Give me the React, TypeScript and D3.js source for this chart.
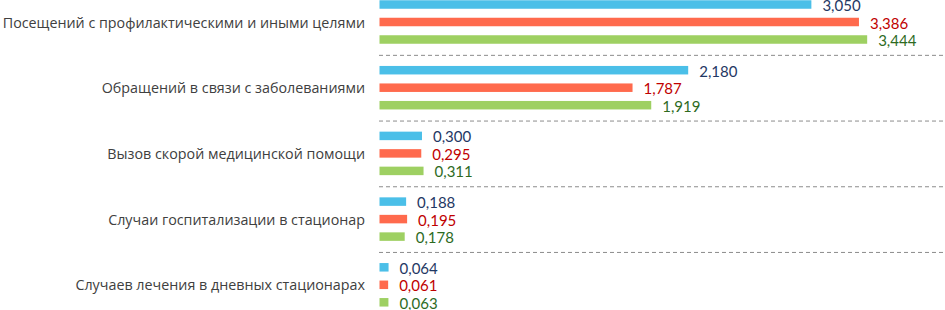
import React from "react";
import * as d3 from "d3";

const categories = [
  "Посещений с профилактическими и иными целями",
  "Обращений в связи с заболеваниями",
  "Вызов скорой медицинской помощи",
  "Случаи госпитализации в стационар",
  "Случаев лечения в дневных стационарах",
];
const seriesNames = ["s1", "s2", "s3"];
const series1 = [3.05, 2.18, 0.3, 0.188, 0.064];
const series2 = [3.386, 1.787, 0.295, 0.195, 0.061];
const series3 = [3.444, 1.919, 0.311, 0.178, 0.063];
const seriesValues = [series1, series2, series3];
const barColors = ["#4BBFE8", "#FF6A4D", "#9ED062"];
const labelColors = ["#1F3864", "#C00000", "#2E6B1F"];

const W = 945;
const H = 310;

export default function App() {
  const x = d3.scaleLinear().domain([0, 4]).range([379.5, 379.5 + 141.6 * 4]);
  const y = d3.scaleBand().domain(categories).range([-10.85, 317.65]).padding(0);
  const inner = d3.scalePoint().domain(seriesNames).range([-17.5, 17.5]);
  const barH = 8.5;
  const fmt = (v: number) => d3.format(".3f")(v).replace(".", ",");

  return (
    <svg
      width={W}
      height={H}
      style={{ position: "absolute", left: 0, top: 0, background: "#fff" }}
    >
      {categories.slice(1).map((c) => (
        <line
          key={"sep" + c}
          x1={379}
          x2={W}
          y1={(y(c) as number) + 0.5}
          y2={(y(c) as number) + 0.5}
          stroke="#8c8c8c"
          strokeWidth={1}
          strokeDasharray="4,3"
        />
      ))}
      {categories.map((c, i) => {
        const cy = (y(c) as number) + y.bandwidth() / 2;
        return (
          <g key={c}>
            <text
              x={365}
              y={cy}
              textAnchor="end"
              dominantBaseline="central"
              fontFamily="'Open Sans', sans-serif"
              fontSize={14.3}
              fill="#404040"
            >
              {c}
            </text>
            {seriesNames.map((s, k) => {
              const v = seriesValues[k][i];
              const by = cy + (inner(s) as number);
              return (
                <g key={s}>
                  <rect
                    x={x(0)}
                    y={by - barH / 2}
                    width={x(v) - x(0)}
                    height={barH}
                    fill={barColors[k]}
                  />
                  <text
                    x={x(v) + 11}
                    y={by + 0.5}
                    dominantBaseline="central"
                    fontFamily="Lato, sans-serif"
                    fontSize={15}
                    fill={labelColors[k]}
                  >
                    {fmt(v)}
                  </text>
                </g>
              );
            })}
          </g>
        );
      })}
    </svg>
  );
}
